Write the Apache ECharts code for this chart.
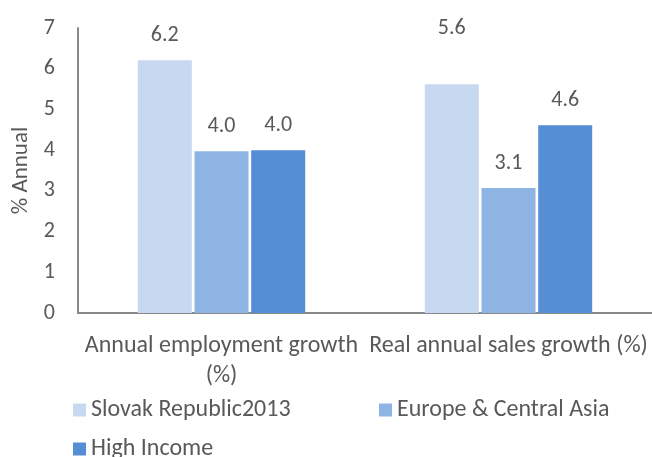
<!DOCTYPE html>
<html>
<head>
<meta charset="utf-8">
<script src="https://cdn.jsdelivr.net/npm/echarts@6/dist/echarts.min.js"></script>
<style>html,body{margin:0;padding:0;background:#fff}#c{width:652px;height:457px}</style>
</head>
<body>
<div id="c"></div>
<script>
const categories = ['Annual employment growth (%)', 'Real annual sales growth (%)'];
const seriesNames = ['Slovak Republic2013', 'Europe & Central Asia', 'High Income'];
const slovak = [6.21, 5.62];
const europe = [3.97, 3.07];
const highIncome = [4.0, 4.61];
const yTicks = [0, 1, 2, 3, 4, 5, 6, 7];

const FONT = 'Carlito, Lato, sans-serif';
const TXT = '#595959';
const colors = ['#C6D9F1', '#8DB4E2', '#558ED5'];

const chart = echarts.init(document.getElementById('c'), null, {renderer: 'canvas'});

function mkSeries(name, data, color, idx) {
  return {
    name: name,
    type: 'bar',
    barWidth: 54,
    barGap: '5%',
    itemStyle: {color: color},
    label: {
      show: true, position: 'top', distance: 14,
      fontFamily: FONT, fontSize: 22, color: TXT,
      formatter: p => p.value.toFixed(1)
    },
    data: data.map((v, i) => {
      if (idx === 0 && i === 1) return {value: v, label: {offset: [0, -31]}};
      return v;
    })
  };
}

function legendAt(name, left, top) {
  return {
    data: [name], left: left, top: top, orient: 'horizontal',
    itemWidth: 13, itemHeight: 13, itemGap: 0, itemTextGap: 5,
    icon: 'rect',
    textStyle: {fontFamily: FONT, fontSize: 24, color: TXT}
  };
}

chart.setOption({
  animation: false,
  textStyle: {fontFamily: FONT},
  grid: {left: 78, top: 28, width: 578, bottom: 144, containLabel: false},
  legend: [
    legendAt(seriesNames[0], 68, 393),
    legendAt(seriesNames[1], 374, 393),
    legendAt(seriesNames[2], 68, 432)
  ],
  xAxis: {
    type: 'category', data: categories,
    axisLine: {show: true, lineStyle: {color: '#898989', width: 2}},
    axisTick: {show: false},
    axisLabel: {
      fontFamily: FONT, fontSize: 24, color: TXT, margin: 18, lineHeight: 30,
      interval: 0,
      formatter: v => v === categories[0] ? 'Annual employment growth\n(%)' : v
    }
  },
  yAxis: {
    type: 'value', min: yTicks[0], max: yTicks[yTicks.length - 1], interval: 1,
    name: '% Annual', nameLocation: 'middle', nameGap: 35,
    nameTextStyle: {fontFamily: FONT, fontSize: 23, color: TXT},
    axisLine: {show: true, lineStyle: {color: '#898989', width: 2}},
    axisTick: {show: false},
    splitLine: {show: false},
    axisLabel: {fontFamily: FONT, fontSize: 22, color: TXT, margin: 23}
  },
  series: [
    mkSeries(seriesNames[0], slovak, colors[0], 0),
    mkSeries(seriesNames[1], europe, colors[1], 1),
    mkSeries(seriesNames[2], highIncome, colors[2], 2)
  ]
});
</script>
</body>
</html>
